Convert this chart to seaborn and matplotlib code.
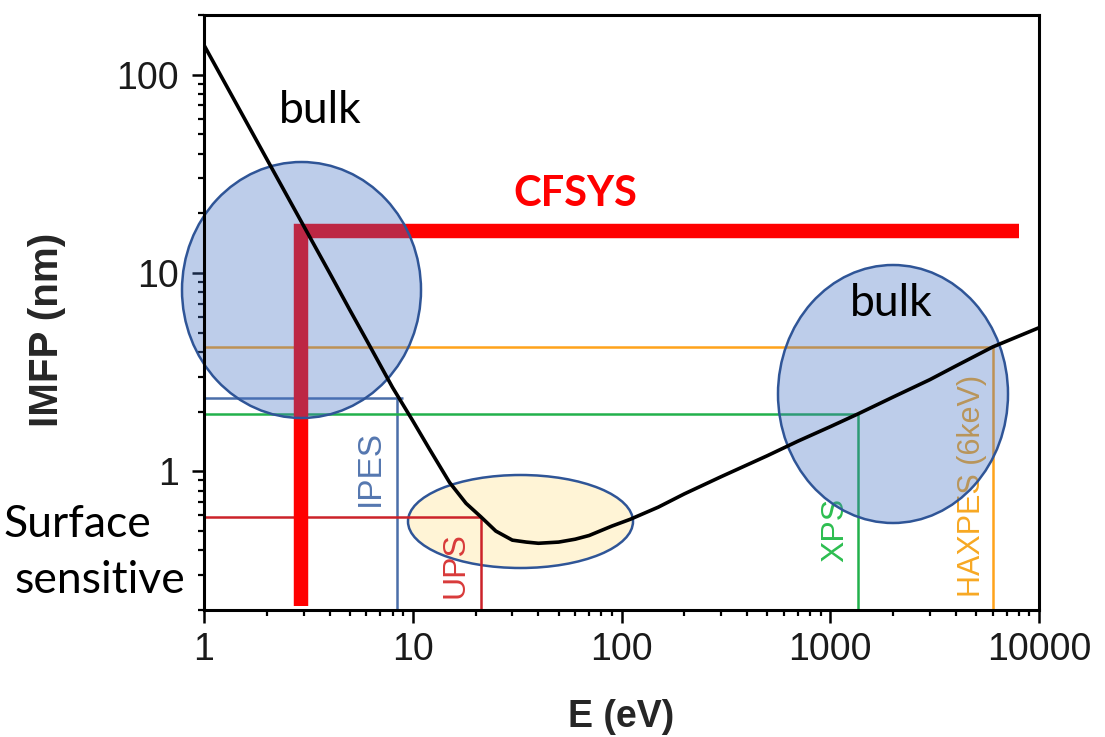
import matplotlib
matplotlib.use("Agg")
import matplotlib.pyplot as plt
import pandas as pd
import seaborn as sns
from matplotlib.patches import Ellipse
from matplotlib.ticker import LogLocator, NullFormatter, FixedLocator, FixedFormatter

# Universal inelastic mean free path curve
energy_ev = [1, 1.5, 2, 3, 4, 5, 6, 8, 10, 12, 15, 18, 21.2, 25, 30, 35, 40,
             50, 60, 70, 90, 110, 150, 200, 300, 500, 700, 1000, 1360, 2000,
             3000, 4000, 6000, 10000]
imfp_nm = [141, 65, 37.5, 17.3, 10.0, 6.5, 4.6, 2.65, 1.8, 1.3, 0.88, 0.69,
           0.59, 0.50, 0.45, 0.44, 0.434, 0.44, 0.455, 0.475, 0.53, 0.573, 0.66,
           0.77, 0.94, 1.2, 1.42, 1.68, 1.95, 2.37, 2.9, 3.4, 4.24, 5.3]

# Spectroscopies: photon/electron energy and the IMFP they probe
techniques = ["IPES", "UPS", "XPS", "HAXPES (6keV)"]
tech_energy = [8.4, 21.2, 1360, 6000]
tech_imfp = [2.34, 0.59, 1.95, 4.24]
tech_hline_end = [9.0, 21.2, 1360, 6000]
tech_line_colors = ["#4B6EA9", "#CC2229", "#22B14C", "#FFA31A"]
tech_text_colors = ["#5577B0", "#D83A3A", "#2DBE50", "#F7A823"]

# CFSYS accessible range
cfsys_energy = [2.9, 2.9, 8000]
cfsys_imfp = [0.21, 16.3, 16.3]

x_ticks = [1, 10, 100, 1000, 10000]
x_tick_labels = ["1", "10", "100", "1000", "10000"]
y_ticks = [1, 10, 100]
y_tick_labels = ["1", "10", "100"]

sns.set_theme(style="white")
plt.rcParams["font.family"] = ["Liberation Sans", "DejaVu Sans"]

W, H = 1105, 737
fig = plt.figure(figsize=(W / 100, H / 100), dpi=100)
ax = fig.add_axes([204 / W, 1 - 610 / H, 835 / W, 595 / H])
ax.set_xscale("log")
ax.set_yscale("log")
ax.set_xlim(1, 10000)
ax.set_ylim(0.2, 200)

# helper: pixel position in the axes box -> axes fraction
def af(px, py):
    return (px - 204) / 835, (610 - py) / 595

# soft highlight of the IMFP minimum
cx, cy = af(520.5, 521.5)
ax.add_patch(Ellipse((cx, cy), 225 / 835, 93 / 595, transform=ax.transAxes,
                     facecolor="#FFF4D6", edgecolor="#2F5597", lw=1.8, zorder=1))

# technique guide lines
for e, lam, hend, lc in zip(tech_energy, tech_imfp, tech_hline_end,
                            tech_line_colors):
    ax.plot([1, hend], [lam, lam], color=lc, lw=1.8, zorder=2,
            solid_capstyle="butt")
    ax.plot([e, e], [lam, 0.2], color=lc, lw=1.8, zorder=2,
            solid_capstyle="butt")

label_pos = [(370, 467.5, 24), (456, 565, 23), (835, 530, 23), (972, 486, 22)]
for name, tc, (px, py, fs) in zip(techniques, tech_text_colors, label_pos):
    fx, fy = af(px, py)
    ax.text(fx, fy, name, transform=ax.transAxes, rotation=90, color=tc,
            fontsize=fs, ha="center", va="center", zorder=2)

# CFSYS range
ax.plot(cfsys_energy, cfsys_imfp, color="#FF0000", lw=10.4, zorder=2.5,
        solid_joinstyle="miter", solid_capstyle="butt")

# bulk-sensitive regions
for (px, py, w, h) in [(301.5, 290, 239, 256), (893, 394, 230, 258)]:
    ex, ey = af(px, py)
    ax.add_patch(Ellipse((ex, ey), w / 835, h / 595, transform=ax.transAxes,
                         facecolor=(0.267, 0.447, 0.769, 0.35),
                         edgecolor="#2F5597", lw=1.8, zorder=3, clip_on=False))

# IMFP curve
curve = pd.DataFrame({"E": energy_ev, "IMFP": imfp_nm})
sns.lineplot(data=curve, x="E", y="IMFP", ax=ax, color="black", lw=2.6,
             sort=False, zorder=4)

# annotations
ann_font = ["Lato", "DejaVu Sans"]
fx, fy = af(320, 123)
ax.text(fx, fy, "bulk", transform=ax.transAxes, fontsize=32, family=ann_font,
        ha="center", va="baseline", color="black", zorder=5)
fx, fy = af(891, 316)
ax.text(fx, fy, "bulk", transform=ax.transAxes, fontsize=32, family=ann_font,
        ha="center", va="baseline", color="black", zorder=5)
fx, fy = af(575, 194)
ax.text(fx, fy, "CFSYS", transform=ax.transAxes, fontsize=30, family=ann_font,
        fontweight="bold", ha="center", va="center", color="#FF0000", zorder=5)
fx, fy = af(77, 537)
ax.text(fx, fy, "Surface", transform=ax.transAxes, fontsize=32, family=ann_font,
        ha="center", va="baseline", color="black", clip_on=False)
fx, fy = af(100, 593)
ax.text(fx, fy, "sensitive", transform=ax.transAxes, fontsize=32, family=ann_font,
        ha="center", va="baseline", color="black", clip_on=False)

# axes styling
for s in ax.spines.values():
    s.set_linewidth(2.2)
    s.set_color("black")
    s.set_zorder(6)

ax.xaxis.set_major_locator(FixedLocator(x_ticks))
ax.xaxis.set_major_formatter(FixedFormatter(x_tick_labels))
ax.xaxis.set_minor_locator(LogLocator(base=10, subs=range(2, 10)))
ax.xaxis.set_minor_formatter(NullFormatter())
ax.yaxis.set_major_locator(FixedLocator(y_ticks))
ax.yaxis.set_major_formatter(FixedFormatter(y_tick_labels))
ax.yaxis.set_minor_locator(LogLocator(base=10, subs=range(2, 10)))
ax.yaxis.set_minor_formatter(NullFormatter())

ax.tick_params(axis="both", which="major", direction="out", length=9, width=1.8,
               color="black", labelsize=27, labelcolor="#1a1a1a")
ax.tick_params(axis="both", which="minor", direction="out", length=4.5,
               width=1.6, color="black")
ax.tick_params(axis="x", which="both", bottom=True, top=False, pad=7)
ax.tick_params(axis="y", which="both", left=True, right=False, pad=9)
for lbl in ax.get_xticklabels() + ax.get_yticklabels():
    lbl.set_family(["Liberation Sans", "DejaVu Sans"])

ax.set_xlabel("E (eV)", fontsize=27, fontweight="bold", va="center")
ax.xaxis.set_label_coords(*af(621, 717))
ax.set_ylabel("IMFP (nm)", fontsize=29, fontweight="bold", va="center")
ax.yaxis.set_label_coords(*af(47, 330))

fig.savefig("out.png", dpi=100)
